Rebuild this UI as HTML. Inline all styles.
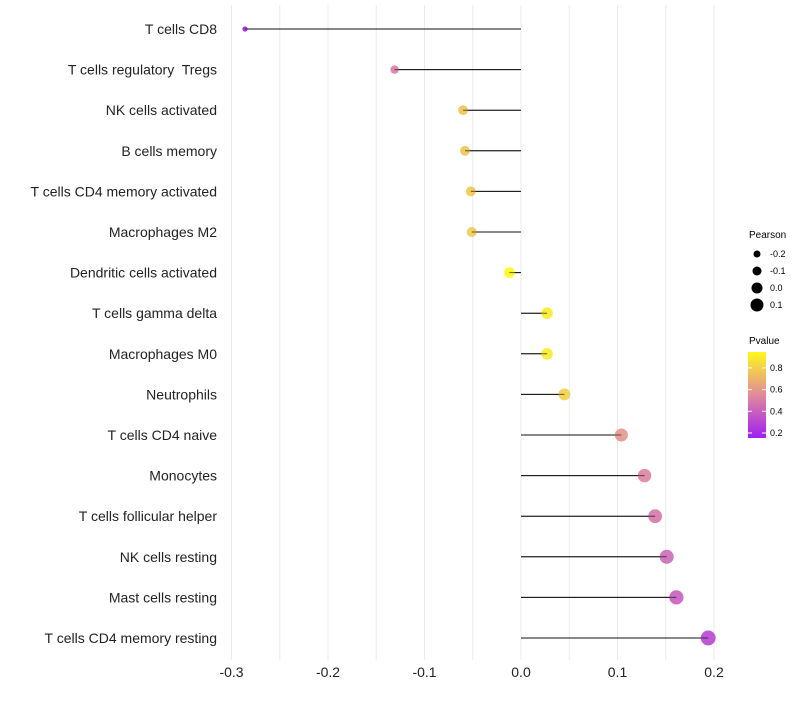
<!DOCTYPE html>
<html><head><meta charset="utf-8"><style>
body{margin:0;background:#fff;font-family:"Liberation Sans",sans-serif}
#labels text{white-space:pre}
</style></head><body>
<svg id="c" width="800" height="700" xmlns="http://www.w3.org/2000/svg">
<defs><linearGradient id="pg" x1="0" y1="1" x2="0" y2="0">
<stop offset="0" stop-color="#A01EF2"/><stop offset="0.5" stop-color="#E08A9C"/><stop offset="1" stop-color="#FFF81A"/>
</linearGradient></defs>
<g id="grid"></g><g id="marks"></g><g id="labels"></g>
<g font-size="9">
<text x="749" y="238" font-size="10">Pearson</text>
<g id="sizeLeg"></g>
<text x="749" y="344" font-size="10">Pvalue</text>
<rect x="748" y="352" width="18" height="86" fill="url(#pg)"/>
<g id="colLeg"></g>
</g>
</svg>
<script>
const categories=["T cells CD8","T cells regulatory  Tregs","NK cells activated","B cells memory","T cells CD4 memory activated","Macrophages M2","Dendritic cells activated","T cells gamma delta","Macrophages M0","Neutrophils","T cells CD4 naive","Monocytes","T cells follicular helper","NK cells resting","Mast cells resting","T cells CD4 memory resting"];
const pearson=[-0.286,-0.131,-0.060,-0.058,-0.052,-0.051,-0.012,0.027,0.027,0.045,0.104,0.128,0.139,0.151,0.161,0.194];
const pvalues=[0.15,0.50,0.76,0.76,0.78,0.78,0.95,0.90,0.90,0.80,0.60,0.53,0.48,0.43,0.39,0.30];
const xTicks=[-0.3,-0.2,-0.1,0.0,0.1,0.2];
const xTickLabels=["-0.3","-0.2","-0.1","0.0","0.1","0.2"];
const sizeLegend=[-0.2,-0.1,0.0,0.1];
const colorLegend=[0.8,0.6,0.4,0.2];
const NS="http://www.w3.org/2000/svg";
const X=v=>521+v*965;
const Y=i=>29+i*40.6;
const R=v=>5.5+v*10;
const PY=p=>433-(p-0.2)*108.5;
function lerp(a,b,t){return a.map((x,i)=>Math.round(x+(b[i]-x)*t));}
function col(p){const t=Math.max(0,Math.min(1,(p-0.154)/(0.947-0.154)));
const a=[160,30,242],m=[224,138,156],b=[255,248,26];
const c=t<0.5?lerp(a,m,t*2):lerp(m,b,(t-0.5)*2);return `rgb(${c})`;}
function el(t,a,p){const e=document.createElementNS(NS,t);for(const k in a)e.setAttribute(k,a[k]);p.appendChild(e);return e;}
const grid=document.getElementById('grid'),marks=document.getElementById('marks'),labels=document.getElementById('labels');
for(let v=-0.3;v<=0.2001;v+=0.05){const g=el('line',{x1:X(v),x2:X(v),y1:5,y2:660,stroke:'#ebebeb','stroke-width':1},grid);

}
xTicks.forEach((v,i)=>{const t=el('text',{x:X(v),y:677,'text-anchor':'middle','font-size':14,fill:'#222'},labels);t.textContent=xTickLabels[i];

});
categories.forEach((c,i)=>{const y=Y(i);
const t=el('text',{x:217,y:y+5,'text-anchor':'end','font-size':14,fill:'#222'},labels);t.textContent=c;


const l=el('line',{x1:X(0),x2:X(pearson[i]),y1:y,y2:y,stroke:'#111','stroke-width':1},marks);


const d=el('circle',{cx:X(pearson[i]),cy:y,r:R(pearson[i]),fill:col(pvalues[i]),'fill-opacity':0.9},marks);


el('line',{x1:X(0),x2:X(pearson[i]),y1:y,y2:y,stroke:'#111','stroke-width':1,'stroke-opacity':0.6},marks);});
const sl=document.getElementById('sizeLeg');
sizeLegend.forEach((v,i)=>{const y=254+i*17;
const d=el('circle',{cx:757,cy:y,r:R(v),fill:'#000'},sl);


const t=el('text',{x:770,y:y+3,'font-size':9},sl);t.textContent=v.toFixed(1);

});
const cl=document.getElementById('colLeg');
colorLegend.forEach(p=>{const y=PY(p);
el('line',{x1:748,x2:752,y1:y,y2:y,stroke:'#fff','stroke-width':1},cl);
el('line',{x1:762,x2:766,y1:y,y2:y,stroke:'#fff','stroke-width':1},cl);
const t=el('text',{x:770,y:y+3,'font-size':9},cl);t.textContent=p.toFixed(1);

});
</script>
</body></html>
